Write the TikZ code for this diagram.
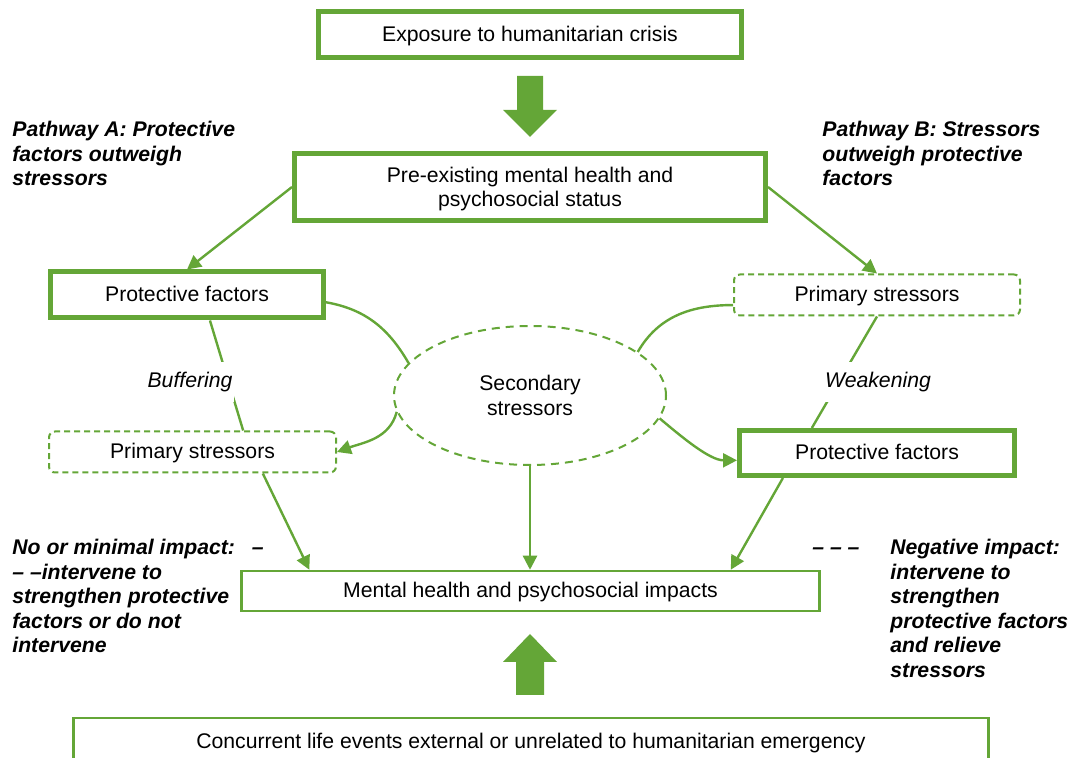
\documentclass[tikz,border=0pt]{standalone}
\usepackage{fontspec}
\setmainfont{Liberation Sans}
\usetikzlibrary{positioning,arrows.meta,calc,shapes.geometric}
\definecolor{leaf}{RGB}{100,166,55}

\begin{document}
\begin{tikzpicture}[x=0.5pt,y=-0.5pt,
    font=\fontsize{10.6}{12.25}\selectfont,
    box/.style={draw=leaf,inner sep=0pt,align=center,text height=0.95em,text depth=0.25em},
    heavy/.style={box,line width=2.5pt},
    light/.style={box,line width=1.25pt},
    dashbox/.style={box,line width=1pt,dash pattern=on 3pt off 2pt,rounded corners=3pt},
    link/.style={draw=leaf,line width=1.2pt},
    arr/.style={link,-{Triangle[length=7pt,width=7pt]}},
    note/.style={font=\fontsize{10.6}{12.25}\selectfont\bfseries\itshape,align=left,anchor=base west,inner sep=0pt},
    lbl/.style={font=\fontsize{10.6}{12.25}\selectfont\itshape,fill=white,inner xsep=1pt,inner ysep=5pt}]

    \useasboundingbox (0,0) rectangle (1078,758);

    \node[heavy,minimum width=211.5pt,minimum height=23pt] (crisis) at (530,35) {Exposure to humanitarian crisis};
    \node[heavy,minimum width=235.5pt,minimum height=33.5pt,text height=,text depth=0pt] (pre) at (530,187) {Pre-existing mental health and\\psychosocial status};
    \node[heavy,minimum width=136.5pt,minimum height=23pt] (protL) at (187,295) {Protective factors};
    \node[dashbox,minimum width=143pt,minimum height=20.5pt] (primR) at (877,295) {Primary stressors};
    \node[ellipse,draw=leaf,line width=1pt,dash pattern=on 4pt off 3pt,inner sep=0pt,minimum width=136pt,minimum height=69.5pt,align=center] (sec) at (530,395.5) {Secondary\\stressors};
    \node[dashbox,minimum width=143.5pt,minimum height=20.5pt] (primL) at (192.5,452) {Primary stressors};
    \node[heavy,minimum width=137.5pt,minimum height=22.5pt] (protR) at (877,453) {Protective factors};
    \node[light,minimum width=289pt,minimum height=20pt] (mh) at (530.5,591) {Mental health and psychosocial impacts};
    \node[light,minimum width=457.5pt,minimum height=24pt] (conc) at (531,742) {Concurrent life events external or unrelated to humanitarian emergency};

    \fill[leaf] (517,76) -- (543,76) -- (543,110) -- (557,110) -- (530,137) -- (503,110) -- (517,110) -- cycle;
    \fill[leaf] (530,634) -- (557,662) -- (544,662) -- (544,695) -- (516,695) -- (516,662) -- (503,662) -- cycle;

    \draw[arr] (pre.west) -- (protL.north);
    \draw[arr] (pre.east) -- (primR.north);
    \draw[link] (protL.-48) -- (primL.23);
    \node[lbl] (buffer) at (190,382) {Buffering};
    \draw[link] (primR.south) -- (protR.159);
    \node[lbl] (weaken) at (878,382) {Weakening};
    \draw[link] (protL.-3) to[out=-10,in=120] (sec.165);
    \draw[arr] (sec.187) to[out=-105,in=20] (primL.east);
    \draw[link] (primR.184) to[out=180,in=60] (sec.22);
    \draw[arr] (sec.-10) to[out=-40,in=180,looseness=0.8] (protR.183);
    \draw[arr] (primL.-17) -- ($(mh.north west)!0.119!(mh.north east)$);
    \draw[arr] (sec.south) -- (sec.south |- mh.north);
    \draw[arr] ($(protR.south west)!0.164!(protR.south east)$) -- ($(mh.north west)!0.845!(mh.north east)$);

    \node[note] (pathA) at (12,186) {Pathway A: Protective\\factors outweigh\\stressors};
    \node[note] (pathB) at (822,186) {Pathway B: Stressors\\outweigh protective\\factors};
    \node[note] (minimal) at (12,653) {No or minimal impact:\hspace{0.8em}–\\– –intervene to\\strengthen protective\\factors or do not\\intervene};
    \node[note] (dashes) at (812,555) {– – –};
    \node[note] (negative) at (890,677.5) {Negative impact:\\intervene to\\strengthen\\protective factors\\and relieve\\stressors};
\end{tikzpicture}
\end{document}
